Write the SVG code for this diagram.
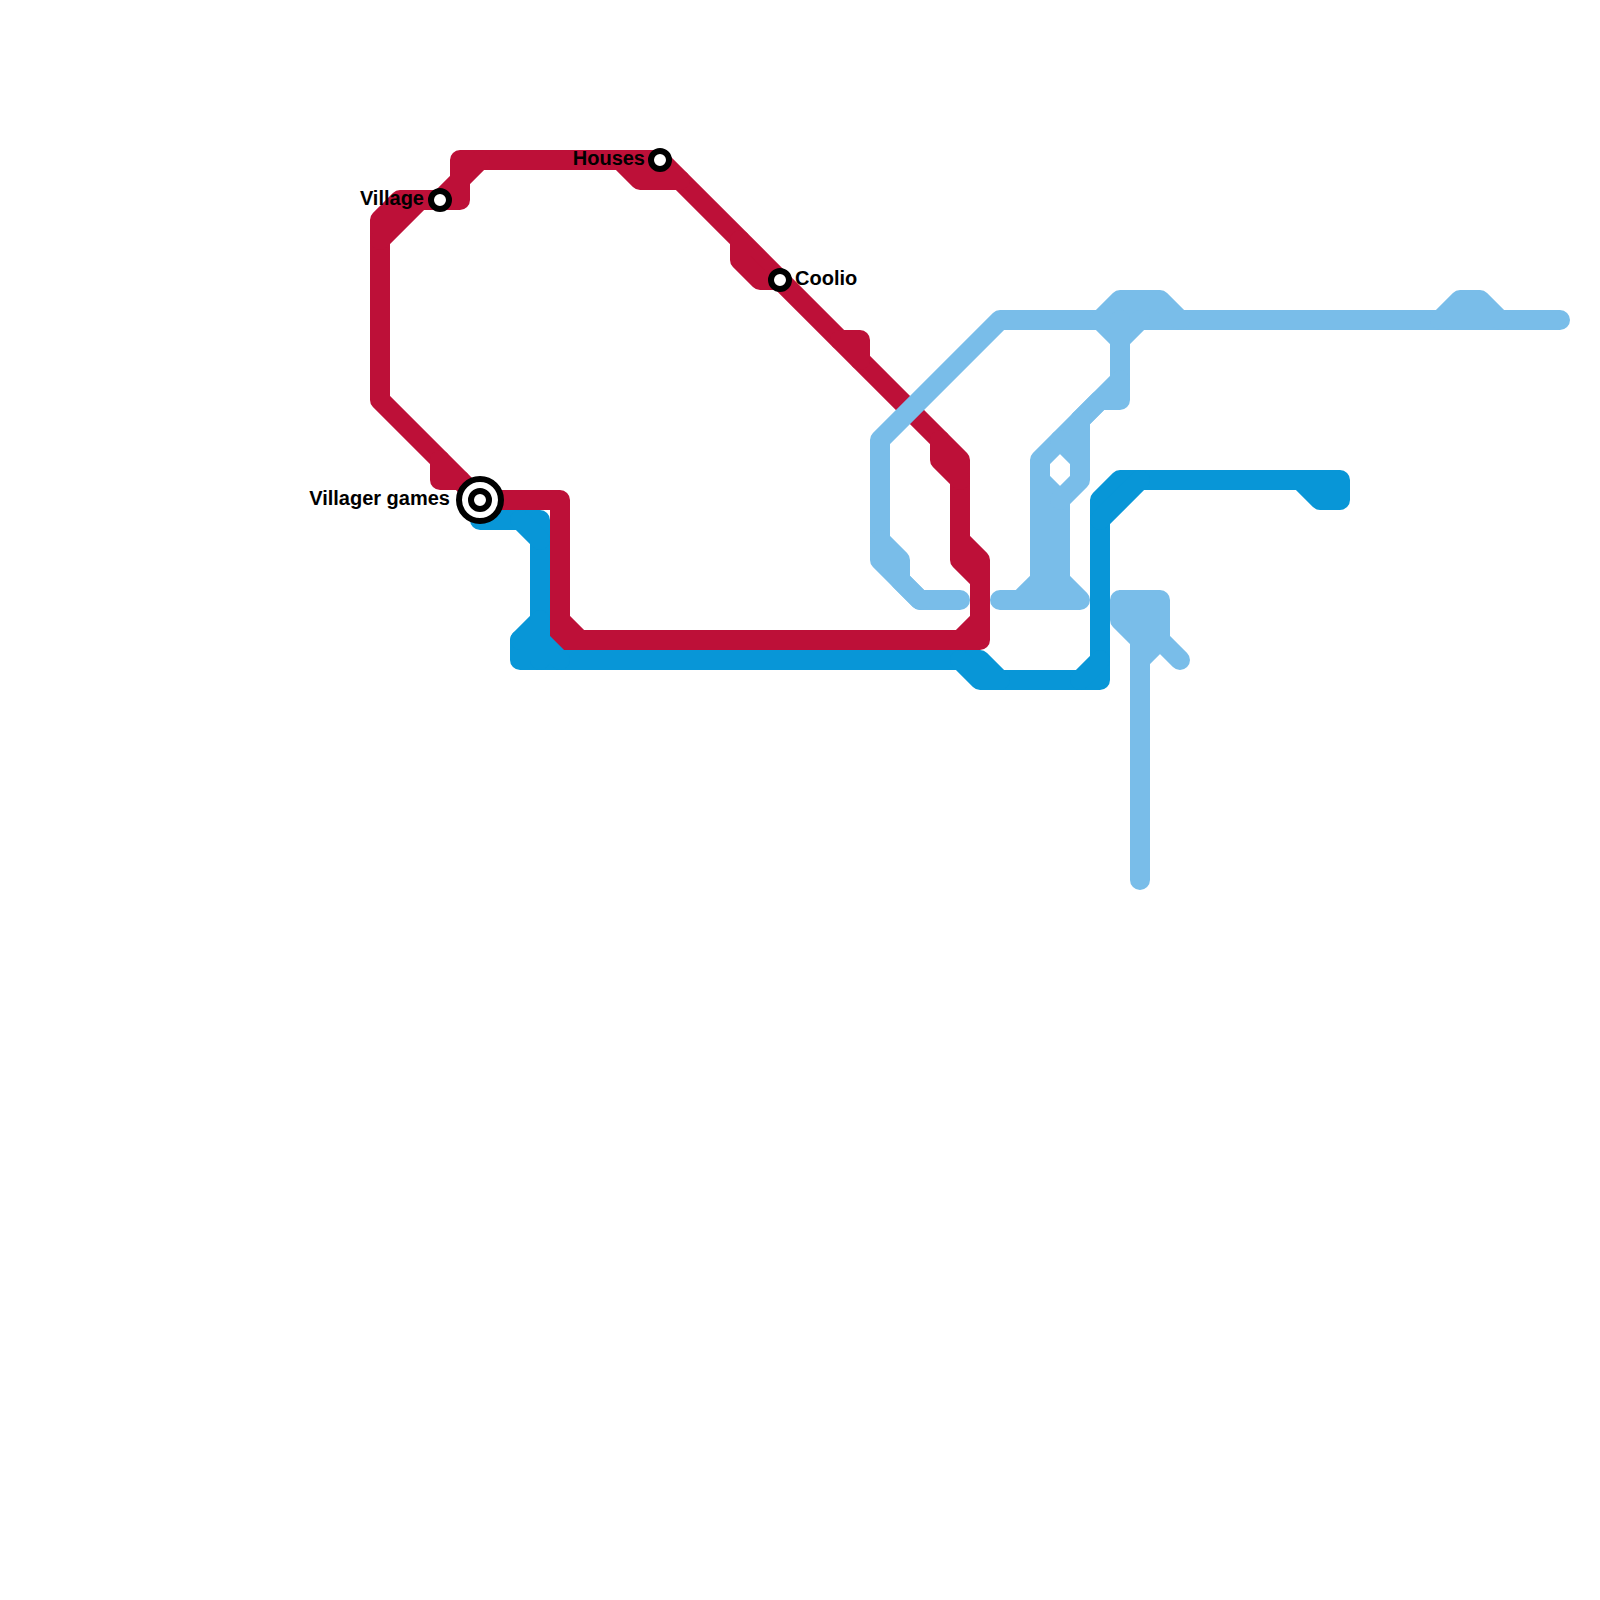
<svg xmlns="http://www.w3.org/2000/svg" width="1600" height="1600" viewBox="0 0 1600 1600">
<style>
.l{fill:none;stroke-width:20;stroke-linecap:round;stroke-linejoin:round}
.red{stroke:#bd1038}.blue{stroke:#0896d7}.sky{stroke:#79bde9}
.o{fill:#fff;stroke:#000;stroke-width:6}
.t{font-family:"Liberation Sans",Arial,sans-serif;font-size:20px;font-weight:700;fill:#000}
</style>
<rect width="1600" height="1600" fill="#fff"/>
<g id="connectors">
<g id="line-red" class="l red">
<path d="M480 500H560V620L580 640H960L980 620M560 620V640H980V560L960 540M980 580L960 560V460L660 160H460V200H400L380 220V400L480 500"/>
<path d="M380 240L420 200M440 200L460 180L480 160"/>
<path d="M440 460V480H460"/>
<path d="M620 160L640 180H680"/>
<path d="M740 240V260L760 280H780"/>
<path d="M840 340H860V360"/>
<path d="M940 440V460L960 480"/>
</g>
<g id="line-blue" class="l blue">
<path d="M480 520H540V620L520 640V660H980L1000 680H1100V500L1120 480H1340V500H1320L1300 480"/>
<path d="M520 520L540 540M540 620V640L560 660M960 660L980 680H1000M1080 680L1100 660M1100 520L1140 480M520 640H540V660"/>
</g>
<g id="line-sky" class="l sky">
<path d="M1560 320H1000L880 440V560L920 600H960"/>
<path d="M880 540L900 560V580L920 600"/>
<path d="M1100 320L1120 300H1160L1180 320M1100 320L1120 340L1140 320"/>
<path d="M1440 320L1460 300H1480L1500 320"/>
<path d="M1120 320V400H1100L1080 420"/>
<path d="M1120 380L1040 460V600M1040 580L1020 600M1000 600H1080L1060 580V500L1040 480M1060 580V600"/>
<path d="M1060 500L1080 480V420M1060 440L1080 460"/>
<path d="M1140 880V600M1120 620V600H1160V640L1180 660M1120 620L1140 640M1140 660L1160 640M1120 600L1160 640"/>
</g>
</g>
<g id="station-village"><circle class="o" cx="440" cy="200" r="9"/><text class="t" x="424" y="205" text-anchor="end">Village</text></g>
<g id="station-houses"><circle class="o" cx="660" cy="160" r="9"/><text class="t" x="645" y="165" text-anchor="end">Houses</text></g>
<g id="station-coolio"><circle class="o" cx="780" cy="280" r="9"/><text class="t" x="795" y="285">Coolio</text></g>
<g id="station-villager-games"><circle class="o" cx="480" cy="500" r="21"/><circle class="o" cx="480" cy="500" r="9"/><text class="t" x="450" y="505" text-anchor="end">Villager games</text></g>
</svg>
